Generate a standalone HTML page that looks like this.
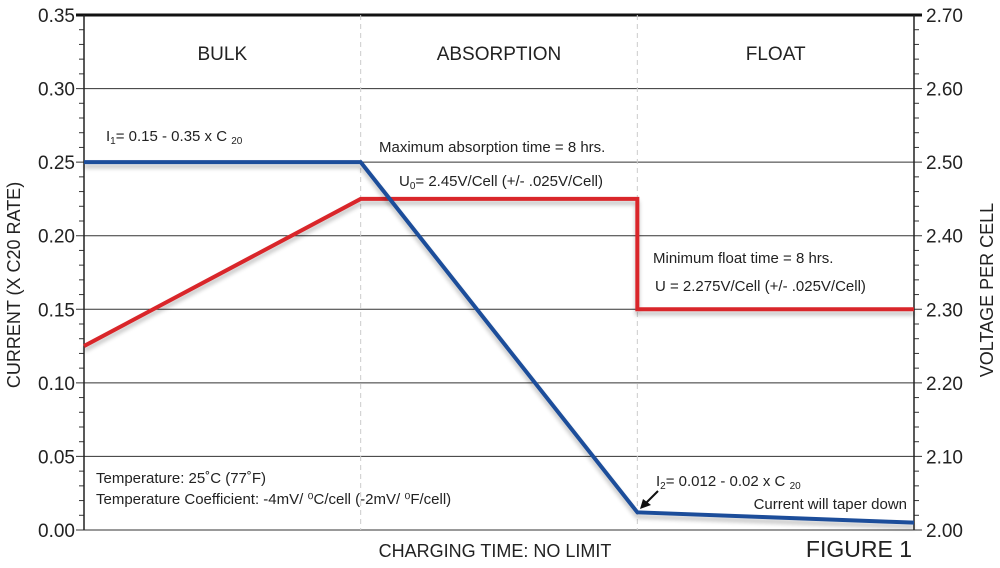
<!DOCTYPE html>
<html><head><meta charset="utf-8"><style>
body{margin:0;background:#fff;}
svg{font-family:"Liberation Sans",sans-serif;}
</style></head><body>
<svg id="c" width="1000" height="563" viewBox="0 0 1000 563">
<defs><filter id="sh" x="-5%" y="-5%" width="110%" height="130%"><feGaussianBlur in="SourceAlpha" stdDeviation="2"/><feOffset dy="4"/><feComponentTransfer><feFuncA type="linear" slope="0.25"/></feComponentTransfer><feMerge><feMergeNode/><feMergeNode in="SourceGraphic"/></feMerge></filter></defs>
<g id="grid"></g><g id="series"></g><g id="labels"></g>
</svg>
<script>
const leftTicks=[0,0.05,0.10,0.15,0.20,0.25,0.30,0.35];
const leftTickLabels=["0.00","0.05","0.10","0.15","0.20","0.25","0.30","0.35"];
const rightTicks=[2.00,2.10,2.20,2.30,2.40,2.50,2.60,2.70];
const rightTickLabels=["2.00","2.10","2.20","2.30","2.40","2.50","2.60","2.70"];
const phaseNames=["BULK","ABSORPTION","FLOAT"];
const phaseBounds=[0,1,2,3];
const currentX=[0,1,2,3];
const currentY=[0.25,0.25,0.012,0.005];
const voltageX=[0,1,2,2,3];
const voltageY=[2.25,2.45,2.45,2.30,2.30];

const L=84,R=914,T=15,B=530;
const xS=v=>L+(v-0)/(3-0)*(R-L);
const yL=v=>B-(v/0.35)*(B-T);
const yR=v=>B-((v-2.0)/0.7)*(B-T);
const NS="http://www.w3.org/2000/svg";
function mk(tag,attrs,parent,text){const e=document.createElementNS(NS,tag);for(const k in attrs)e.setAttribute(k,attrs[k]);if(text!==undefined)e.textContent=text;parent.appendChild(e);return e;}
const g=document.getElementById('grid'),s=document.getElementById('series'),lb=document.getElementById('labels');

leftTicks.forEach((t,i)=>{const y=yL(t);
 let ln=mk('line',{x1:L-8,x2:R+8,y1:y,y2:y,stroke:i==7?'#111':'#333','stroke-width':i==7?3:1},g);
 
 let tx=mk('text',{x:L-9,y:y+7,'text-anchor':'end','font-size':19,fill:'#222'},lb,leftTickLabels[i]);
 
 if(i<7)for(let k=1;k<5;k++){const yy=y-k*(B-T)/35;
  mk('line',{x1:L-5,x2:L,y1:yy,y2:yy,stroke:'#333','stroke-width':1},g);
  mk('line',{x1:R,x2:R+5,y1:yy,y2:yy,stroke:'#333','stroke-width':1},g);}
});
rightTicks.forEach((t,i)=>{const y=yR(t);
 let tx=mk('text',{x:R+12,y:y+7,'font-size':19,fill:'#222'},lb,rightTickLabels[i]);
 });
let ax=mk('line',{x1:L,x2:L,y1:T,y2:B,stroke:'#222','stroke-width':1.5},g);
ax=mk('line',{x1:R,x2:R,y1:T,y2:B,stroke:'#222','stroke-width':1.5},g);
phaseBounds.slice(1,3).forEach(p=>{const x=xS(p);
 let d=mk('line',{x1:x,x2:x,y1:T,y2:B,stroke:'#ccc','stroke-width':1,'stroke-dasharray':'5,4'},g);
 });
phaseNames.forEach((n,i)=>{const x=(xS(phaseBounds[i])+xS(phaseBounds[i+1]))/2;
 let t=mk('text',{x:x,y:60,'text-anchor':'middle','font-size':19,fill:'#222'},lb,n);
 });

let pv=mk('polyline',{points:voltageX.map((x,i)=>xS(x)+','+yR(voltageY[i])).join(' '),fill:'none',stroke:'#d9262b','stroke-width':4,filter:'url(#sh)'},s);

let pc=mk('polyline',{points:currentX.map((x,i)=>xS(x)+','+yL(currentY[i])).join(' '),fill:'none',stroke:'#1f4e9a','stroke-width':4,filter:'url(#sh)'},s);

</script>
<svg style="position:absolute;left:0;top:0" width="1000" height="563" font-family="Liberation Sans, sans-serif" font-size="15" fill="#222">
<text x="106" y="141">I<tspan font-size="10" dy="3">1</tspan><tspan dy="-3">= 0.15 - 0.35 x C </tspan><tspan font-size="10" dy="3">20</tspan></text>
<text x="379" y="152">Maximum absorption time = 8 hrs.</text>
<text x="399" y="186">U<tspan font-size="10" dy="3">0</tspan><tspan dy="-3">= 2.45V/Cell (+/- .025V/Cell)</tspan></text>
<text x="653" y="263">Minimum float time = 8 hrs.</text>
<text x="655" y="291">U = 2.275V/Cell (+/- .025V/Cell)</text>
<text x="96" y="483">Temperature: 25˚C (77˚F)</text>
<text x="96" y="504">Temperature Coefficient: -4mV/ ⁰C/cell (-2mV/ ⁰F/cell)</text>
<text x="656" y="486">I<tspan font-size="10" dy="3">2</tspan><tspan dy="-3">= 0.012 - 0.02 x C </tspan><tspan font-size="10" dy="3">20</tspan></text>
<text x="907" y="509" text-anchor="end">Current will taper down</text>
<line x1="658" y1="491" x2="646" y2="503" stroke="#111" stroke-width="2"/>
<polygon points="640,509 643,499 651,505" fill="#111"/>
<text x="495" y="557" text-anchor="middle" font-size="18">CHARGING TIME: NO LIMIT</text>
<text x="912" y="557" text-anchor="end" font-size="23">FIGURE 1</text>
<text transform="translate(20,285) rotate(-90)" text-anchor="middle" font-size="18">CURRENT (X C20 RATE)</text>
<text transform="translate(993,290) rotate(-90)" text-anchor="middle" font-size="18">VOLTAGE PER CELL</text>
</svg>
</body></html>
